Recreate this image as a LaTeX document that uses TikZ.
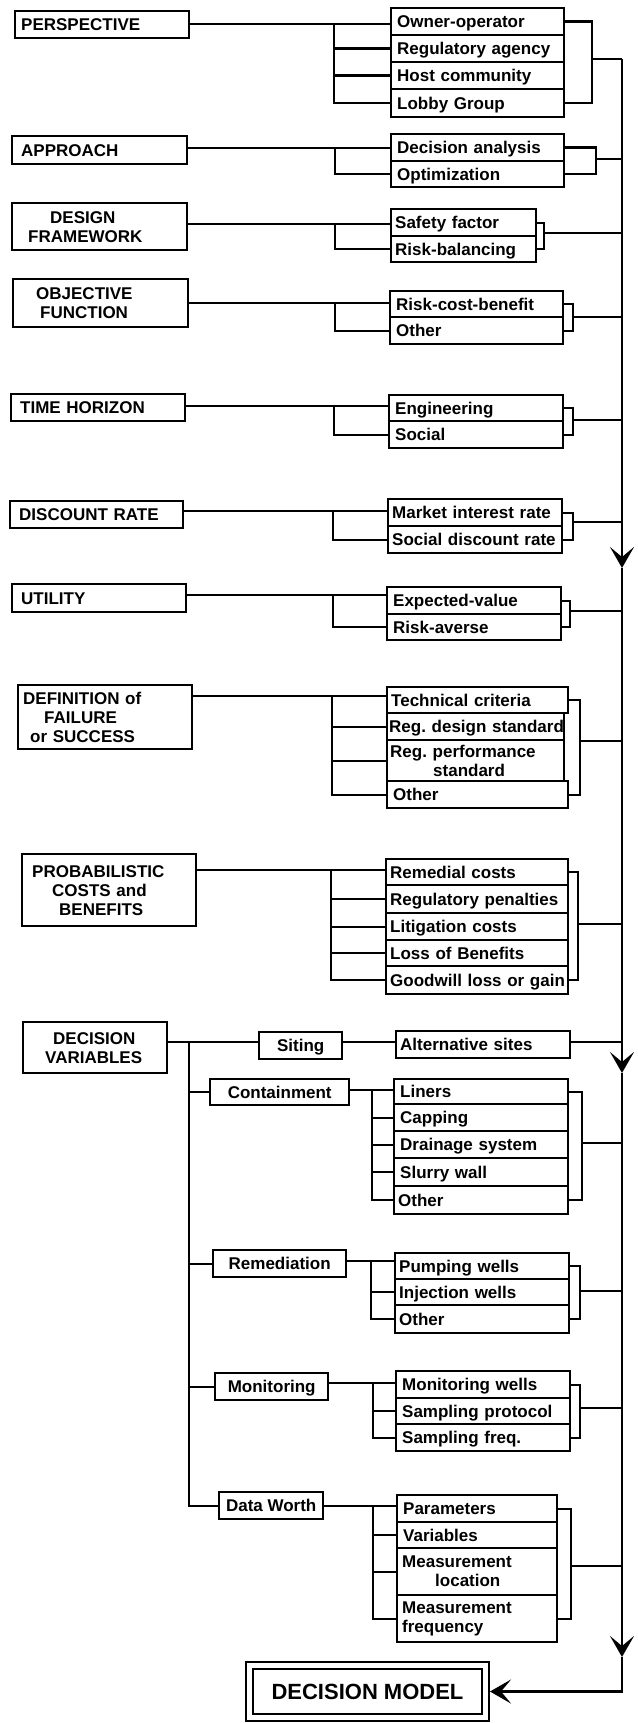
\documentclass[tikz,border=0pt]{standalone}
\usepackage{fontspec}
\setmainfont{Liberation Sans}
\usetikzlibrary{arrows.meta}

\begin{document}
\begin{tikzpicture}[x=1pt, y=-1pt,
  every node/.style={font=\bfseries\fontsize{17}{19}\selectfont\frenchspacing},
  boxbase/.style={draw, line width=2.4pt, anchor=north west, inner ysep=0pt, align=left},
  catbox/.style={boxbase, inner xsep=9pt, text width=#1, text height=12.2pt, text depth=0pt},
  catboxm/.style={boxbase, inner xsep=0pt, text width=#1},
  optbox/.style={boxbase, inner xsep=6pt, text width=#1, text height=12.2pt, text depth=0pt},
  optboxn/.style={boxbase, inner xsep=4pt, text width=#1, text height=12.2pt, text depth=0pt},
  optboxm/.style={boxbase, inner xsep=5pt, text width=#1},
  subbox/.style={draw, line width=2.4pt, anchor=north west, inner sep=0pt,
                 minimum width=#1, minimum height=27pt, text height=12.2pt, text depth=0pt},
  wire/.style={line width=2.4pt},
  flowarrow/.style={line width=2.4pt, -{Stealth[length=21pt, width=24pt, inset=10pt]}}
]
\useasboundingbox[fill=white] (0,0) rectangle (637,1723);

% ---------- category boxes ----------
\node[catbox=162pt, minimum height=27pt, inner xsep=6pt] (persp) at (14,10) {PERSPECTIVE};
\node[catbox=157pt, minimum height=28pt] (appr) at (11,135) {APPROACH};
\node[catboxm=175pt, minimum height=47pt] (design) at (11,202)
  {\hspace*{38pt}DESIGN\\\hspace*{16pt}FRAMEWORK};
\node[catboxm=175pt, minimum height=48pt] (objf) at (12,278)
  {\hspace*{23pt}OBJECTIVE\\\hspace*{27pt}FUNCTION};
\node[catbox=156pt, minimum height=27pt] (time) at (10,393) {TIME HORIZON};
\node[catbox=155pt, minimum height=27pt] (disc) at (9,500) {DISCOUNT RATE};
\node[catbox=156pt, minimum height=28pt] (util) at (11,583) {UTILITY};
\node[catboxm=174pt, minimum height=64pt] (defn) at (17,684)
  {\hspace*{5pt}DEFINITION of\\\hspace*{26pt}FAILURE\\\hspace*{12pt}or SUCCESS};
\node[catboxm=174pt, minimum height=72pt] (prob) at (21,853)
  {\hspace*{10pt}PROBABILISTIC\\\hspace*{30pt}COSTS and\\\hspace*{37pt}BENEFITS};
\node[catboxm=144pt, minimum height=51pt] (dvar) at (22,1021)
  {\hspace*{30pt}DECISION\\\hspace*{22pt}VARIABLES};

% ---------- option boxes ----------
\node[optbox=161pt, minimum height=27pt] (p1) at (390,7) {Owner-operator};
\node[optbox=161pt, minimum height=27pt] (p2) at (390,34) {\mbox{Regulatory agency}};
\node[optbox=161pt, minimum height=27pt] (p3) at (390,61) {Host community};
\node[optbox=161pt, minimum height=28pt] (p4) at (390,88) {Lobby Group};

\node[optbox=161pt, minimum height=27pt] (a1) at (390,133) {\mbox{Decision analysis}};
\node[optbox=161pt, minimum height=26pt] (a2) at (390,160) {Optimization};

\node[optboxn=137pt, minimum height=27pt] (d1) at (390,208) {Safety factor};
\node[optboxn=137pt, minimum height=26pt] (d2) at (390,235) {Risk-balancing};

\node[optbox=161pt, minimum height=26pt] (f1) at (389,290) {Risk-cost-benefit};
\node[optbox=161pt, minimum height=27pt] (f2) at (389,316) {Other};

\node[optbox=162pt, minimum height=26pt] (t1) at (388,394) {Engineering};
\node[optbox=162pt, minimum height=27pt] (t2) at (388,420) {Social};

\node[optboxn=166pt, minimum height=27pt] (r1) at (387,498) {\mbox{Market interest rate}};
\node[optboxn=166pt, minimum height=27pt] (r2) at (387,525) {\mbox{Social discount rate}};

\node[optbox=162pt, minimum height=27pt] (u1) at (386,586) {Expected-value};
\node[optbox=162pt, minimum height=26pt] (u2) at (386,613) {Risk-averse};

\node[optboxn=173pt, minimum height=26pt] (e1) at (386,686) {Technical criteria};
\node[optboxn=173pt, minimum height=27pt, inner xsep=2pt] (e2) at (386,712) {\mbox{Reg. design standard}};
\node[optboxm=171pt, minimum height=41pt, inner xsep=3pt] (e3) at (386,739) {Reg. performance\\\hspace*{43pt}standard};
\node[optbox=169pt, minimum height=27pt] (e4) at (386,780) {Other};

\node[optboxn=174pt, minimum height=26pt] (c1) at (385,858) {Remedial costs};
\node[optboxn=174pt, minimum height=28pt] (c2) at (385,884) {\mbox{Regulatory penalties}};
\node[optboxn=174pt, minimum height=27pt] (c3) at (385,912) {Litigation costs};
\node[optboxn=174pt, minimum height=26pt] (c4) at (385,939) {Loss of Benefits};
\node[optboxn=174pt, minimum height=28pt] (c5) at (385,965) {\mbox{Goodwill loss or gain}};

% ---------- decision variables ----------
\node[subbox=83pt] (sit) at (258,1031) {Siting};
\node[optboxn=166pt, minimum height=27pt] (alt) at (395,1030) {Alternative sites};

\node[subbox=139pt, minimum height=26pt] (cont) at (209,1078) {Containment};
\node[optbox=162pt, minimum height=25pt] (k1) at (393,1078) {Liners};
\node[optbox=162pt, minimum height=27pt] (k2) at (393,1103) {Capping};
\node[optbox=162pt, minimum height=27pt] (k3) at (393,1130) {\mbox{Drainage system}};
\node[optbox=162pt, minimum height=28pt] (k4) at (393,1157) {Slurry wall};
\node[optboxn=166pt, minimum height=28pt] (k5) at (393,1185) {Other};

\node[subbox=133pt] (rem) at (212,1249) {Remediation};
\node[optboxn=166pt, minimum height=26pt] (m1) at (394,1252) {Pumping wells};
\node[optboxn=166pt, minimum height=26pt] (m2) at (394,1278) {Injection wells};
\node[optboxn=166pt, minimum height=28pt] (m3) at (394,1304) {Other};

\node[subbox=113pt] (mon) at (214,1372) {Monitoring};
\node[optbox=162pt, minimum height=27pt] (n1) at (395,1370) {\mbox{Monitoring wells}};
\node[optbox=162pt, minimum height=26pt] (n2) at (395,1397) {\mbox{Sampling protocol}};
\node[optbox=162pt, minimum height=27pt] (n3) at (395,1423) {Sampling freq.};

\node[subbox=104pt] (dw) at (218,1491) {Data Worth};
\node[optbox=148pt, minimum height=27pt] (w1) at (396,1494) {Parameters};
\node[optbox=148pt, minimum height=26pt] (w2) at (396,1521) {Variables};
\node[optboxm=150pt, minimum height=47pt] (w3) at (396,1547) {Measurement\\\hspace*{33pt}location};
\node[optboxm=150pt, minimum height=47pt] (w4) at (396,1594) {Measurement\\frequency};

% ---------- final box ----------
\node[draw, double, double distance=4.2pt, line width=2.4pt, inner sep=0pt, outer sep=4.5pt,
      minimum width=236pt, minimum height=52pt,
      font=\bfseries\fontsize{22}{24}\selectfont] (dm) at (367.5,1691.5) {DECISION MODEL};

% ---------- trunk and bracket points ----------
\coordinate (main) at (622,0);
\coordinate (pb) at (334,24);   \coordinate (pr) at (592,59);
\coordinate (ab) at (335,148);  \coordinate (ar) at (596,159);
\coordinate (db) at (335,224);  \coordinate (dr) at (544,233);
\coordinate (fb) at (335,303);  \coordinate (fr) at (573,317);
\coordinate (tb) at (334,406);  \coordinate (tr) at (573,420);
\coordinate (rb) at (333,511);  \coordinate (rr) at (573,522);
\coordinate (ub) at (333,595);  \coordinate (ur) at (570,611);
\coordinate (eb) at (332,696);  \coordinate (er) at (580,741);
\coordinate (cb) at (331,870);  \coordinate (cr) at (578,924);
\coordinate (vb) at (189,1042);
\coordinate (kb) at (372,1090); \coordinate (kr) at (582,1143);
\coordinate (mb) at (371,1261); \coordinate (mr) at (580,1291);
\coordinate (nb) at (373,1383); \coordinate (nr) at (580,1408);
\coordinate (wb) at (373,1506); \coordinate (wr) at (571,1566);
\coordinate (arr1) at (622,568);
\coordinate (arr2) at (622,1073);
\coordinate (arr3) at (622,1657);

% ---------- perspective ----------
\draw[wire] (pb -| persp.east) -- (pb -| p1.west);
\draw[wire] (pb) |- (p4.west);
\draw[wire] (pb |- p2.west) -- (p2.west);
\draw[wire] (pb |- p3.west) -- (p3.west);
\draw[wire] (p1.east) -| (pr) |- (p4.east);
\draw[wire] (pr) -- (pr -| main);

% ---------- approach ----------
\draw[wire] (ab -| appr.east) -- (ab -| a1.west);
\draw[wire] (ab) |- (a2.west);
\draw[wire] (a1.east) -| (ar) |- (a2.east);
\draw[wire] (ar) -- (ar -| main);

% ---------- design framework ----------
\draw[wire] (db -| design.east) -- (db -| d1.west);
\draw[wire] (db) |- (d2.west);
\draw[wire] (d1.east) -| (dr) |- (d2.east);
\draw[wire] (dr) -- (dr -| main);

% ---------- objective function ----------
\draw[wire] (fb -| objf.east) -- (fb -| f1.west);
\draw[wire] (fb) |- (f2.west);
\draw[wire] (f1.east) -| (fr) |- (f2.east);
\draw[wire] (fr) -- (fr -| main);

% ---------- time horizon ----------
\draw[wire] (tb -| time.east) -- (tb -| t1.west);
\draw[wire] (tb) |- (t2.west);
\draw[wire] (t1.east) -| (tr) |- (t2.east);
\draw[wire] (tr) -- (tr -| main);

% ---------- discount rate ----------
\draw[wire] (rb -| disc.east) -- (rb -| r1.west);
\draw[wire] (rb) |- (r2.west);
\draw[wire] (r1.east) -| (rr) |- (r2.east);
\draw[wire] (rr) -- (rr -| main);

% ---------- utility ----------
\draw[wire] (ub -| util.east) -- (ub -| u1.west);
\draw[wire] (ub) |- (u2.west);
\draw[wire] (u1.east) -| (ur) |- (u2.east);
\draw[wire] (ur) -- (ur -| main);

% ---------- definition of failure or success ----------
\draw[wire] (eb -| defn.east) -- (eb -| e1.west);
\draw[wire] (eb) |- (e4.west);
\draw[wire] (eb |- e2.west) -- (e2.west);
\draw[wire] (eb |- e3.west) -- (e3.west);
\draw[wire] (e1.east) -| (er) |- (e4.east);
\draw[wire] (er) -- (er -| main);

% ---------- probabilistic costs and benefits ----------
\draw[wire] (cb -| prob.east) -- (cb -| c1.west);
\draw[wire] (cb) |- (c5.west);
\draw[wire] (cb |- c2.west) -- (c2.west);
\draw[wire] (cb |- c3.west) -- (c3.west);
\draw[wire] (cb |- c4.west) -- (c4.west);
\draw[wire] (c1.east) -| (cr) |- (c5.east);
\draw[wire] (cr) -- (cr -| main);

% ---------- decision variables ----------
\draw[wire] (vb -| dvar.east) -- (vb -| sit.west);
\draw[wire] (vb -| sit.east) -- (vb -| alt.west);
\draw[wire] (vb -| alt.east) -- (vb -| main);
\draw[wire] (vb) |- (dw.west);
\draw[wire] (vb |- cont.west) -- (cont.west);
\draw[wire] (vb |- rem.west) -- (rem.west);
\draw[wire] (vb |- mon.west) -- (mon.west);

% containment
\draw[wire] (kb -| cont.east) -- (kb -| k1.west);
\draw[wire] (kb) |- (k5.west);
\draw[wire] (kb |- k2.west) -- (k2.west);
\draw[wire] (kb |- k3.west) -- (k3.west);
\draw[wire] (kb |- k4.west) -- (k4.west);
\draw[wire] (k1.east) -| (kr) |- (k5.east);
\draw[wire] (kr) -- (kr -| main);

% remediation
\draw[wire] (mb -| rem.east) -- (mb -| m1.west);
\draw[wire] (mb) |- (m3.west);
\draw[wire] (mb |- m2.west) -- (m2.west);
\draw[wire] (m1.east) -| (mr) |- (m3.east);
\draw[wire] (mr) -- (mr -| main);

% monitoring
\draw[wire] (nb -| mon.east) -- (nb -| n1.west);
\draw[wire] (nb) |- (n3.west);
\draw[wire] (nb |- n2.west) -- (n2.west);
\draw[wire] (n1.east) -| (nr) |- (n3.east);
\draw[wire] (nr) -- (nr -| main);

% data worth
\draw[wire] (wb -| dw.east) -- (wb -| w1.west);
\draw[wire] (wb) |- (w4.west);
\draw[wire] (wb |- w2.west) -- (w2.west);
\draw[wire] (wb |- w3.west) -- (w3.west);
\draw[wire] (w1.east) -| (wr) |- (w4.east);
\draw[wire] (wr) -- (wr -| main);

% ---------- collecting line down to the model ----------
\draw[flowarrow] (pr -| main) -- (arr1);
\draw[flowarrow] (arr1) -- (arr2);
\draw[flowarrow] (arr2) -- (arr3);
\draw[flowarrow] (arr3) |- (dm.east);

\end{tikzpicture}
\end{document}
